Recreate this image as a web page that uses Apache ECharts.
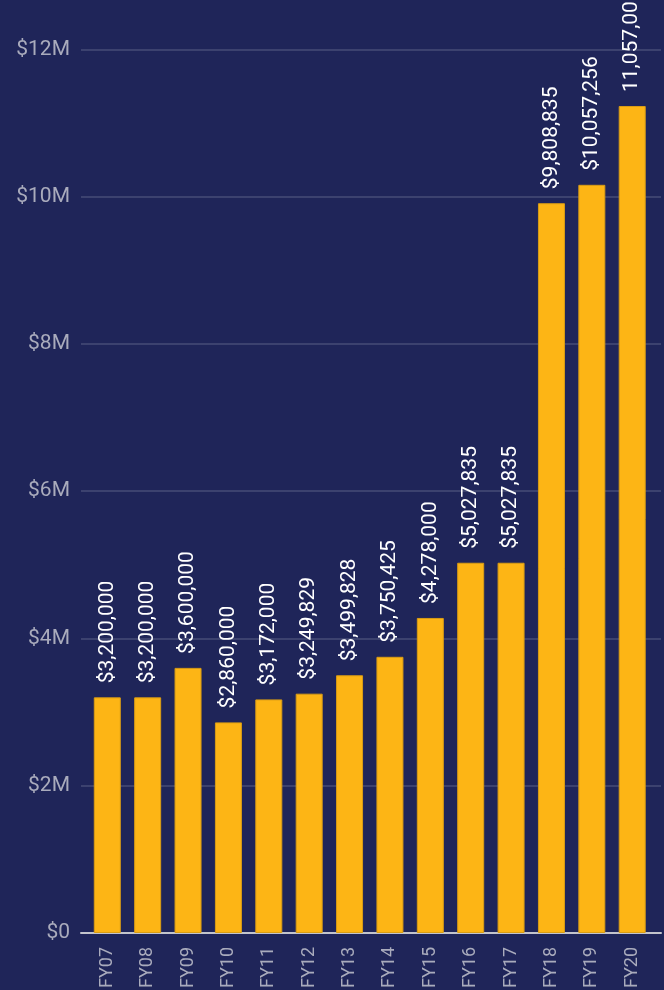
<!DOCTYPE html>
<html>
<head>
<meta charset="utf-8">
<title>Funding by fiscal year</title>
<script src="https://cdn.jsdelivr.net/npm/echarts@6/dist/echarts.min.js"></script>
<style>
    html, body { margin: 0; padding: 0; background: #1f2559; }
    #chart { width: 664px; height: 990px; }
</style>
</head>
<body>
<div id="chart"></div>
<script>
// ============================================
// 数据
// ============================================
const years = ['FY07', 'FY08', 'FY09', 'FY10', 'FY11', 'FY12', 'FY13',
    'FY14', 'FY15', 'FY16', 'FY17', 'FY18', 'FY19', 'FY20'];

// 柱高
const barValues = [3200000, 3200000, 3600000, 2860000, 3172000, 3249829, 3499828,
    3750425, 4278000, 5027835, 5027835, 9910000, 10160000, 11230000];

// 柱顶标签文字
const barLabels = ['$3,200,000', '$3,200,000', '$3,600,000', '$2,860,000', '$3,172,000',
    '$3,249,829', '$3,499,828', '$3,750,425', '$4,278,000', '$5,027,835', '$5,027,835',
    '$9,808,835', '$10,057,256', '11,057,000'];

const yTicks = [0, 2000000, 4000000, 6000000, 8000000, 10000000, 12000000];

// ============================================
// 样式
// ============================================
const FONT = 'Roboto';
const GOLD = '#fdb515';
const TICK_COLOR = '#a9abbc';
const GRID_COLOR = 'rgba(255,255,255,0.18)';

function formatMoney(v) {
    return v === 0 ? '$0' : '$' + (v / 1000000) + 'M';
}

const chart = echarts.init(document.getElementById('chart'));

const option = {
    backgroundColor: '#1f2559',
    animation: false,
    grid: [
        // 背景网格（网格线与坐标轴更宽）
        { left: 81, right: 3, top: 49.3, bottom: 57, containLabel: false, outerBoundsMode: 'none' },
        // 柱状图
        { left: 87.1, right: 11.6, top: 49.3, bottom: 57, containLabel: false, outerBoundsMode: 'none' }
    ],
    xAxis: [
        {
            gridIndex: 0,
            type: 'category',
            data: [''],
            offset: 1,
            axisLine: { lineStyle: { color: '#c3c4cc', width: 2 } },
            axisTick: { show: false },
            axisLabel: { show: false },
            splitLine: { show: false }
        },
        {
            gridIndex: 1,
            type: 'category',
            data: years,
            axisLine: { show: false },
            axisTick: { show: false },
            axisLabel: {
                rotate: 90,
                margin: 14,
                color: TICK_COLOR,
                fontFamily: FONT,
                fontSize: 18
            }
        }
    ],
    yAxis: [
        {
            gridIndex: 0,
            type: 'value',
            min: yTicks[0],
            max: yTicks[yTicks.length - 1],
            interval: 2000000,
            axisLine: { show: false },
            axisTick: { show: false },
            axisLabel: {
                margin: 11,
                color: TICK_COLOR,
                fontFamily: FONT,
                fontSize: 21,
                formatter: formatMoney
            },
            splitLine: { lineStyle: { color: GRID_COLOR, width: 1.5 } }
        },
        {
            gridIndex: 1,
            type: 'value',
            min: yTicks[0],
            max: yTicks[yTicks.length - 1],
            interval: 2000000,
            show: false
        }
    ],
    series: [{
        type: 'bar',
        xAxisIndex: 1,
        yAxisIndex: 1,
        barWidth: 27,
        data: barValues,
        itemStyle: {
            color: GOLD,
            borderColor: '#d99c14',
            borderWidth: 1
        },
        label: {
            show: true,
            position: 'top',
            rotate: 90,
            align: 'left',
            verticalAlign: 'middle',
            distance: 14,
            color: '#ffffff',
            fontFamily: FONT,
            fontSize: 21,
            formatter: p => barLabels[p.dataIndex]
        }
    }]
};

chart.setOption(option);
</script>
</body>
</html>
